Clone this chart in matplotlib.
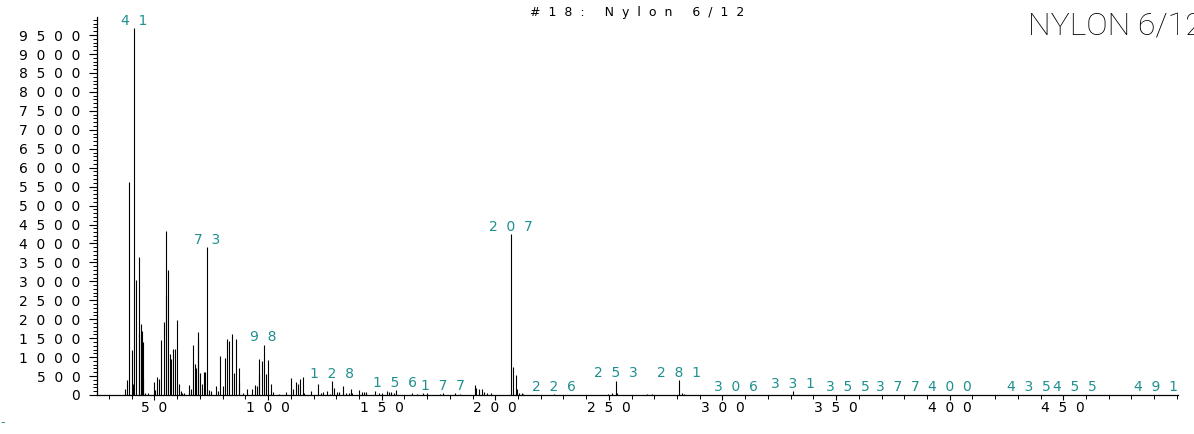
import matplotlib
matplotlib.use("Agg")
import matplotlib.pyplot as plt
from matplotlib.ticker import FixedLocator, FuncFormatter, MultipleLocator

# ---------------- data ----------------
mz = [37.0, 38.0, 39.0, 40.0, 40.4, 41.0, 42.0, 43.0, 43.3, 44.0, 44.3, 44.8, 45.0, 46.0, 47.0,
      49.8, 50.4, 51.0, 52.1, 53.0, 54.1, 55.0, 55.2, 56.1, 57.0, 57.4, 58.0, 59.0, 60.1, 60.8,
      61.5, 62.0, 63.0, 65.1, 66.0, 67.0, 67.8, 68.3, 69.0, 69.3, 70.0, 70.9, 71.9, 72.2, 73.1,
      74.0, 75.0, 77.1, 78.1, 79.0, 80.0, 81.0, 82.1, 82.9, 84.0, 85.0, 86.0, 87.1, 87.3, 89.0,
      90.9, 92.8, 94.1, 95.0, 95.9, 96.1, 97.2, 98.2, 99.2, 100.1, 101.1, 102.0, 105.0, 108.0,
      110.1, 111.1, 112.2, 113.0, 114.2, 115.2, 116.0, 119.0, 122.1, 123.2, 124.0, 126.1, 127.1,
      128.1, 129.2, 130.2, 131.2, 133.1, 134.5, 135.5, 136.4, 137.1, 140.2, 141.2, 142.2, 143.2,
      147.2, 149.0, 150.0, 152.2, 153.4, 154.2, 155.4, 156.3, 163.2, 165.4, 168.0, 169.8, 175.7,
      177.1, 182.2, 184.5, 190.9, 191.6, 193.0, 194.0, 195.0, 196.2, 198.1, 207.0, 208.0, 209.0,
      209.4, 210.5, 211.6, 212.2, 226.0, 249.6, 251.3, 253.0, 253.7, 267.0, 268.9, 281.0, 282.0,
      283.0, 306.0, 331.0, 355.0, 377.0, 400.0, 435.0, 455.0, 491.0]
intensity = [170, 390, 5620, 1200, 300, 9680, 3030, 3630, 1600, 1880, 1680, 450, 1400, 60, 40,
             330, 120, 480, 410, 1440, 1920, 4320, 2620, 3290, 1090, 950, 1220, 1220, 1970, 300,
             100, 60, 40, 270, 150, 1330, 830, 720, 1660, 1460, 570, 300, 600, 610, 3910,
             140, 100, 240, 100, 1020, 240, 970, 1465, 1420, 1600, 580, 1490, 700, 350, 60,
             170, 160, 270, 230, 560, 960, 900, 1330, 560, 930, 300, 80, 30, 80,
             460, 150, 330, 300, 430, 480, 40, 100, 290, 60, 80, 100, 30,
             370, 180, 90, 70, 250, 60, 60, 150, 60, 120, 90, 90, 80,
             110, 50, 40, 100, 80, 90, 60, 120, 40, 30, 40, 40, 30,
             50, 50, 30, 260, 190, 150, 150, 80, 60, 40, 4250, 740, 520,
             150, 60, 40, 30, 20, 30, 40, 380, 60, 30, 30, 390, 60,
             30, 10, 110, 10, 10, 10, 10, 10, 10]

label_mz = [41, 73, 98, 128, 156, 177, 207, 226, 253, 281, 306, 331, 355, 377, 400, 435, 455, 491]
x_ticks = [50, 100, 150, 200, 250, 300, 350, 400, 450]
y_ticks = list(range(0, 10000, 500))
title = "#18: Nylon 6/12"
corner_title = "NYLON 6/12"

TEAL = "#1f8f8f"


def spaced(s, gap="  "):
    return gap.join(list(s))


fig = plt.figure(figsize=(11.94, 4.34), dpi=100)
W, H = 1194.0, 434.0
ax = fig.add_axes([97 / W, 39 / H, (1178 - 97) / W, (395 - 16.5) / H])

ax.vlines(mz, 0, intensity, colors="black", linewidth=0.8)

ax.set_xlim(24.7, 500.5)
ax.set_ylim(0, 9990)

for s in ["top", "right"]:
    ax.spines[s].set_visible(False)
for s in ["left", "bottom"]:
    ax.spines[s].set_linewidth(0.9)
    ax.spines[s].set_color("black")

ax.xaxis.set_major_locator(FixedLocator(x_ticks))
ax.xaxis.set_minor_locator(FixedLocator(list(range(30, 510, 10))))
ax.yaxis.set_major_locator(FixedLocator(y_ticks))
ax.yaxis.set_minor_locator(MultipleLocator(100))

ax.xaxis.set_major_formatter(FuncFormatter(lambda v, p: spaced(str(int(round(v))))))
ax.yaxis.set_major_formatter(FuncFormatter(lambda v, p: spaced(str(int(round(v))))))

ax.tick_params(axis="x", which="major", direction="out", length=3.8, width=0.8, pad=0.5,
               labelsize=10, colors="black")
ax.tick_params(axis="x", which="minor", direction="out", length=2.6, width=0.7)
ax.tick_params(axis="y", which="major", direction="out", length=6.0, width=0.8, pad=6.0,
               labelsize=10, colors="black")
ax.tick_params(axis="y", which="minor", direction="out", length=3.0, width=0.7)

# peak labels
for lm in label_mz:
    best = None
    for m, v in zip(mz, intensity):
        if abs(m - lm) <= 0.6 and (best is None or v > best[1]):
            best = (m, v)
    top = best[1] if best else 0
    ax.annotate(spaced(str(lm)), xy=(lm, top), xytext=(0, 2.3), textcoords="offset points",
                ha="center", va="baseline", color=TEAL, fontsize=10, clip_on=False)

fig.text(637 / W, 1 - 16 / H, spaced(title, "  "), ha="center", va="baseline",
         fontsize=9, color="black")
fig.text(1028 / W, 1 - 36 / H, corner_title, ha="left", va="baseline", fontsize=23,
         family=["Roboto", "DejaVu Sans"], fontweight="light", color="black")
fig.text(0.0, 1 - 426 / H, "-", ha="left", va="baseline", fontsize=9, color=TEAL)

fig.savefig("out.png", dpi=100)
